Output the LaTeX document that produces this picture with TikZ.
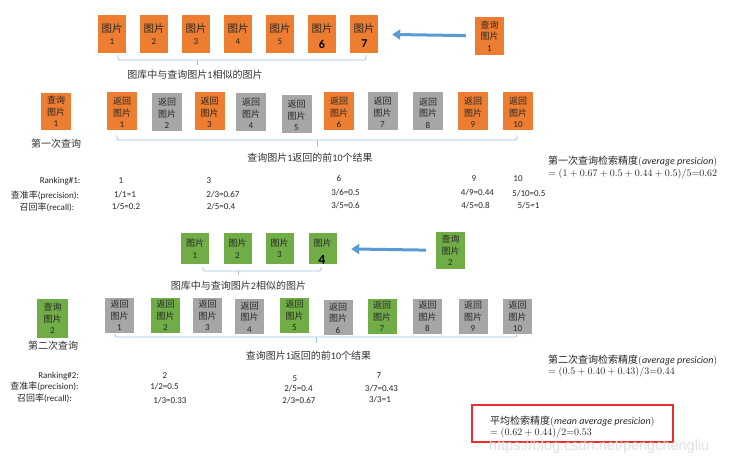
\documentclass[tikz,border=0pt]{standalone}
\usepackage{fontspec}
\setmainfont{Carlito}
\newfontfamily\cjk{Noto Sans CJK SC}
\newfontfamily\wmfont{Liberation Sans}
\usetikzlibrary{arrows.meta}
\definecolor{bxorange}{RGB}{237,125,49}
\definecolor{bxgray}{RGB}{166,166,166}
\definecolor{bxgreen}{RGB}{112,173,71}
\definecolor{arrowblue}{RGB}{91,155,213}
\definecolor{bracecol}{RGB}{157,195,230}
\definecolor{redbox}{RGB}{235,45,45}
\newcommand\zh[1]{{\cjk #1}}
\newcommand\dn{\rule{0pt}{11pt}}
\begin{document}
\begin{tikzpicture}[x=1pt,y=-1pt,
  imgbox/.style={inner sep=0pt, align=center, text=black!85, font=\fontsize{9}{11.5}\selectfont},
  topbox/.style={imgbox, minimum width=28pt, minimum height=38pt, font=\fontsize{10.5}{11.5}\selectfont},
  retbox/.style={imgbox, minimum width=30pt, minimum height=38pt},
  gbox/.style={imgbox, minimum width=28pt, minimum height=31pt},
  ret2box/.style={imgbox, minimum width=29pt, minimum height=35pt},
  qbox/.style={imgbox, minimum width=29pt, minimum height=38pt},
  bluearrow/.style={draw=arrowblue, line width=3pt, -{Triangle[length=8pt,width=10pt]}},
  bracestyle/.style={draw=bracecol, line width=0.8pt, rounded corners=1.5pt},
  lbl/.style={inner sep=0pt, font=\fontsize{10}{12}\selectfont, text=black!80},
  small/.style={inner sep=0pt, font=\fontsize{9}{11}\selectfont, text=black!85},
  aptext/.style={inner sep=0pt, anchor=west, font=\fontsize{10}{12}\selectfont, text=black!85},
  scrawl/.style={inner sep=0pt, font=\fontsize{12}{12}\bfseries\selectfont, text=black}
]
\useasboundingbox[fill=white] (0,0) rectangle (740,465);

% ---------- row 1: gallery images similar to query 1 ----------
\foreach \i/\x in {1/112,2/154,3/196,4/238,5/280}
  \node[topbox, fill=bxorange] (t\i) at (\x,34) {\zh{图片}\\{\fontsize{9}{9}\selectfont\i}};
\node[topbox, fill=bxorange] (t6) at (322,34) {\zh{图片}\\\phantom{6}};
\node[topbox, fill=bxorange] (t7) at (364,34) {\zh{图片}\\\phantom{7}};
\node[scrawl] (s6) at (322,44) {6};
\node[scrawl] (s7) at (364.5,44) {7};
\node[qbox, fill=bxorange] (q1) at (489.5,36) {\zh{查询}\\\zh{图片}\\1};
\draw[bluearrow, shorten <=9pt, shorten >=14pt] (q1) -- (t7);
\coordinate (b1a) at (118,55); \coordinate (b1b) at (366,55);
\coordinate (b1m) at (197,60); \coordinate (b1t) at (197,65);
\draw[bracestyle] (b1a) -- (118,60) -- (366,60) -- (b1b);
\draw[bracestyle] (b1m) -- (b1t);
\node[lbl] (l1) at (195,75) {\zh{图库中与查询图片}1\zh{相似的图片}};

% ---------- row 2: results of query 1 ----------
\node[qbox, fill=bxorange, minimum width=30pt, minimum height=37pt] (q1b) at (56,111.5) {\zh{查询}\\\zh{图片}\\1};
\node[lbl] (f1) at (56,144) {\zh{第一次查询}};
\foreach \i/\x/\y/\c in {1/122/111/bxorange, 2/167/112/bxgray, 3/209.5/111/bxorange,
   4/251/112/bxgray, 5/296.5/114/bxgray, 6/339/111/bxorange, 7/382.5/111/bxgray,
   8/428/111.5/bxgray, 9/473/111/bxorange, 10/518/111/bxorange}
  \node[retbox, fill=\c] (r\i) at (\x,\y) {\dn\zh{返回}\\\zh{图片}\\\i};
\coordinate (b2a) at (117,135); \coordinate (b2b) at (517,135);
\coordinate (b2m) at (317,140); \coordinate (b2t) at (317,147);
\draw[bracestyle] (b2a) -- (117,140) -- (517,140) -- (b2b);
\draw[bracestyle] (b2m) -- (b2t);
\node[lbl] (l2) at (310,158) {\zh{查询图片}1\zh{返回的前}10\zh{个结果}};

\node[small] (rk1) at (60,181) {Ranking\#1:};
\node[small] (pr1) at (45,195) {\zh{查准率}(precision):};
\node[small] (rc1) at (47,207) {\zh{召回率}(recall):};
\node[small] (a1) at (121,181) {1};
\node[small] (a2) at (125,195) {1/1=1};
\node[small] (a3) at (126,207) {1/5=0.2};
\node[small] (c1) at (209,181) {3};
\node[small] (c2) at (223,195) {2/3=0.67};
\node[small] (c3) at (221,207) {2/5=0.4};
\node[small] (d1) at (339,178) {6};
\node[small] (d2) at (345.5,193) {3/6=0.5};
\node[small] (d3) at (345.5,206) {3/5=0.6};
\node[small] (e1) at (474,179) {9};
\node[small] (e2) at (477.5,193) {4/9=0.44};
\node[small] (e3) at (475.5,206) {4/5=0.8};
\node[small] (g1) at (518,179) {10};
\node[small] (g2) at (529,194) {5/10=0.5};
\node[small] (g3) at (528.5,206) {5/5=1};
\node[aptext] (ap1) at (548,162) {\zh{第一次查询检索精度}$(\mathit{average\ presicion})$};
\node[aptext] (ap1b) at (548,174) {$=(1+0.67+0.5+0.44+0.5)/5{=}0.62$};

% ---------- row 3: gallery images similar to query 2 ----------
\foreach \i/\x in {1/195,2/237.5,3/279.5}
  \node[gbox, fill=bxgreen] (h\i) at (\x,248.5) {\zh{图片}\\\i};
\node[gbox, fill=bxgreen] (h4) at (322.5,248.5) {\zh{图片}\\\phantom{4}};
\node[scrawl, font=\fontsize{14}{14}\bfseries\selectfont] (s4) at (322,260) {4};
\node[qbox, fill=bxgreen, minimum height=37pt] (q2) at (450.5,250.5) {\zh{查询}\\\zh{图片}\\2};
\draw[bluearrow, shorten <=10pt, shorten >=14.5pt] (q2) -- (h4);
\coordinate (b3a) at (203,267); \coordinate (b3b) at (321,267);
\coordinate (b3m) at (238,271); \coordinate (b3t) at (238,275);
\draw[bracestyle] (b3a) -- (203,271) -- (321,271) -- (b3b);
\draw[bracestyle] (b3m) -- (b3t);
\node[lbl] (l3) at (238.5,286) {\zh{图库中与查询图片}2\zh{相似的图片}};

% ---------- row 4: results of query 2 ----------
\node[qbox, fill=bxgreen, minimum width=31pt, minimum height=39pt] (q2b) at (52.5,318.5) {\zh{查询}\\\zh{图片}\\2};
\node[lbl] (f2) at (53,346) {\zh{第二次查询}};
\foreach \i/\x/\y/\c in {1/119.5/315.5/bxgray, 2/165.5/315.5/bxgreen, 3/207.5/315.5/bxgray,
   4/249.5/317/bxgray, 5/294.5/315.5/bxgreen, 6/338/318/bxgray, 7/382/316.5/bxgreen,
   8/427.5/316.5/bxgray, 9/473/316.5/bxgray, 10/517.5/316.5/bxgray}
  \node[ret2box, fill=\c] (u\i) at (\x,\y) {\zh{返回}\\\zh{图片}\\\i};
\coordinate (b4a) at (115,333); \coordinate (b4b) at (517,333);
\coordinate (b4m) at (316,337); \coordinate (b4t) at (316,343);
\draw[bracestyle] (b4a) -- (115,337) -- (517,337) -- (b4b);
\draw[bracestyle] (b4m) -- (b4t);
\node[lbl] (l4) at (308.5,356) {\zh{查询图片}1\zh{返回的前}10\zh{个结果}};

\node[small] (rk2) at (58.5,376) {Ranking\#2:};
\node[small] (pr2) at (44.5,386) {\zh{查准率}(precision):};
\node[small] (rc2) at (44.5,398) {\zh{召回率}(recall):};
\node[small] (m1) at (165,376) {2};
\node[small] (m2) at (164.5,387) {1/2=0.5};
\node[small] (m3) at (170,401) {1/3=0.33};
\node[small] (n1) at (295,379) {5};
\node[small] (n2) at (298.5,389) {2/5=0.4};
\node[small] (n3) at (299,401) {2/3=0.67};
\node[small] (o1) at (379,376) {7};
\node[small] (o2) at (381.5,389) {3/7=0.43};
\node[small] (o3) at (380,400) {3/3=1};
\node[aptext] (ap2) at (548,361) {\zh{第二次查询检索精度}$(\mathit{average\ presicion})$};
\node[aptext] (ap2b) at (548,372) {$=(0.5+0.40+0.43)/3{=}0.44$};

% ---------- mean average precision ----------
\node[draw=redbox, line width=1.8pt, minimum width=201pt, minimum height=37pt, inner sep=0pt] (map) at (572.5,423.5) {};
\node[aptext] (mp1) at (490,422) {\zh{平均检索精度}$(\mathit{mean\ average\ presicion})$};
\node[aptext] (mp2) at (490,433) {$=(0.62+0.44)/2{=}0.53$};
\node[inner sep=0pt, anchor=west, font=\wmfont\fontsize{14.5}{15}\selectfont, text=black!12] (wm) at (489,447) {https://blog.csdn.net/pengchengliu};
\end{tikzpicture}
\end{document}
